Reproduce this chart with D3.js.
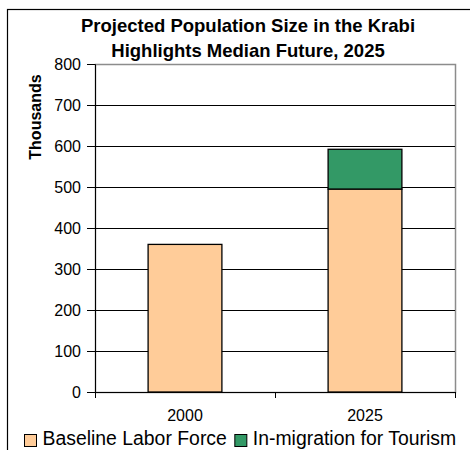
<!DOCTYPE html>
<html>
<head>
<meta charset="utf-8">
<script src="https://cdn.jsdelivr.net/npm/d3@7"></script>
<style>
  body { margin: 0; background: #fff; }
  svg { display: block; font-family: "Liberation Sans", Arial, sans-serif; }
</style>
</head>
<body>
<div id="chart"></div>
<script>
// data
const years = ["2000", "2025"];
const baseline = [360, 495];
const tourism = [0, 97];
const yTicks = [0, 100, 200, 300, 400, 500, 600, 700, 800];
const seriesNames = ["Baseline Labor Force", "In-migration for Tourism"];
const seriesColors = ["#FFCC99", "#339966"];

const width = 470, height = 450;
const margin = { top: 64, right: 15, bottom: 58, left: 95 };
const innerW = width - margin.left - margin.right;
const innerH = height - margin.top - margin.bottom;

const svg = d3.select("#chart").append("svg")
  .attr("width", width)
  .attr("height", height);

// outer chart frame
svg.append("rect")
  .attr("x", 7.5).attr("y", 9.5)
  .attr("width", width + 10).attr("height", height + 10)
  .attr("fill", "none")
  .attr("stroke", "#000")
  .attr("stroke-width", 1.2);

// title
const title = svg.append("text")
  .attr("text-anchor", "middle")
  .attr("font-weight", "bold")
  .attr("font-size", 18.5)
  .attr("fill", "#000");
title.append("tspan").attr("x", 248).attr("y", 32).text("Projected Population Size in the Krabi");
title.append("tspan").attr("x", 248).attr("y", 57).text("Highlights Median Future, 2025");

const g = svg.append("g")
  .attr("transform", `translate(${margin.left},${margin.top})`);

const x = d3.scaleBand().domain(years).range([0, innerW]).paddingInner(0.59).paddingOuter(0.295);
const xCat = d3.scaleBand().domain(years).range([0, innerW]);
const y = d3.scaleLinear().domain([0, 800]).range([innerH, 0]);

// plot area border (gray top / right)
g.append("rect")
  .attr("x", 0.5).attr("y", 0.5)
  .attr("width", innerW).attr("height", innerH)
  .attr("fill", "none")
  .attr("stroke", "#8c8c8c")
  .attr("stroke-width", 1.5);

// gridlines
g.append("g")
  .selectAll("line")
  .data(yTicks.filter(d => d > 0 && d < 800))
  .join("line")
  .attr("x1", 0).attr("x2", innerW)
  .attr("y1", d => Math.round(y(d)) + 0.5)
  .attr("y2", d => Math.round(y(d)) + 0.5)
  .attr("stroke", "#000")
  .attr("stroke-width", 1);

// stacked bars
const stackData = years.map((yr, i) => ({ year: yr, baseline: baseline[i], tourism: tourism[i] }));
const stack = d3.stack().keys(["baseline", "tourism"])(stackData);

g.append("g")
  .selectAll("g")
  .data(stack)
  .join("g")
  .attr("fill", (d, i) => seriesColors[i])
  .selectAll("rect")
  .data(d => d.filter(s => s[1] - s[0] > 0))
  .join("rect")
  .attr("x", d => x(d.data.year))
  .attr("y", d => y(d[1]))
  .attr("width", x.bandwidth())
  .attr("height", d => y(d[0]) - y(d[1]))
  .attr("stroke", "#000")
  .attr("stroke-width", 1.3);

// y axis
const yAxis = g.append("g")
  .call(d3.axisLeft(y).tickValues(yTicks).tickSize(8).tickPadding(6));
yAxis.select(".domain").attr("stroke", "#000");
yAxis.selectAll(".tick line").attr("stroke", "#000");
yAxis.selectAll("text")
  .attr("font-size", 16)
  .attr("font-family", "Liberation Sans, Arial, sans-serif")
  .attr("fill", "#000");

// x axis: ticks between categories
const xAxis = g.append("g").attr("transform", `translate(0,${innerH})`);
xAxis.append("line")
  .attr("x1", 0).attr("x2", innerW)
  .attr("y1", 0.5).attr("y2", 0.5)
  .attr("stroke", "#000");
xAxis.selectAll(".xt")
  .data([0, ...years.map(yr => xCat(yr) + xCat.bandwidth())])
  .join("line")
  .attr("class", "xt")
  .attr("x1", d => d + 0.5).attr("x2", d => d + 0.5)
  .attr("y1", 0).attr("y2", 6)
  .attr("stroke", "#000");
xAxis.selectAll(".xl")
  .data(years)
  .join("text")
  .attr("class", "xl")
  .attr("x", d => xCat(d) + xCat.bandwidth() / 2)
  .attr("y", 29)
  .attr("text-anchor", "middle")
  .attr("font-size", 16)
  .attr("fill", "#000")
  .text(d => d);

// y axis title
svg.append("text")
  .attr("transform", "translate(41,117) rotate(-90)")
  .attr("text-anchor", "middle")
  .attr("font-weight", "bold")
  .attr("font-size", 16)
  .attr("fill", "#000")
  .text("Thousands");

// legend
const legend = svg.append("g").attr("transform", "translate(24,434)");
let lx = 0;
seriesNames.forEach((name, i) => {
  legend.append("rect")
    .attr("x", lx + 0.5).attr("y", 0.5)
    .attr("width", 12).attr("height", 12)
    .attr("fill", seriesColors[i])
    .attr("stroke", "#000")
    .attr("stroke-width", 1);
  const t = legend.append("text")
    .attr("x", lx + 18.5).attr("y", 10.5)
    .attr("font-size", 19.4)
    .attr("fill", "#000")
    .text(name);
  lx += 18.5 + t.node().getComputedTextLength() + 7.5;
});
</script>
</body>
</html>
